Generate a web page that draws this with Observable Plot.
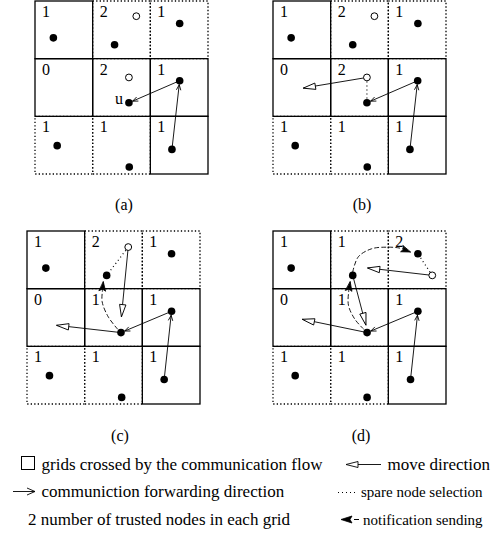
<!DOCTYPE html>
<html><head><meta charset="utf-8">
<script src="https://cdn.jsdelivr.net/npm/d3@7"></script>
<script src="https://cdn.jsdelivr.net/npm/@observablehq/plot@0.6"></script>
<style>
body{margin:0;background:#fff;}
#root{position:relative;width:496px;height:535px;font-family:"Liberation Serif","Times New Roman",serif;color:#000;overflow:hidden;background:#fff}
.panel{position:absolute}
</style></head><body><div id="root"></div>
<script>
// ---------- data (grid units: x = column 0..3, y = row 0..3 from the top) ----------
const panelLabels = ["(a)", "(b)", "(c)", "(d)"];
const crossed = [1,0,0, 1,1,1, 0,0,1];          // 1 = grid crossed by the communication flow
const countsA = [1,2,1, 0,2,1, 1,1,1];
const countsB = [1,2,1, 0,2,1, 1,1,1];
const countsC = [1,2,1, 0,1,1, 1,1,1];
const countsD = [1,1,2, 0,1,1, 1,1,1];

const nodesA = [[0.31,0.63],[1.371,0.75],[2.50,0.381],[1.62,1.756],[2.50,1.374],[0.376,2.50],[1.626,2.87],[2.366,2.565]];
const nodesB = [[0.306,0.63],[1.374,0.75],[2.504,0.381],[1.62,1.756],[2.50,1.374],[0.376,2.50],[1.626,2.87],[2.366,2.565]];
const nodesC = [[0.318,0.635],[1.373,0.761],[2.498,0.386],[1.621,1.753],[2.498,1.384],[0.381,2.50],[1.633,2.877],[2.37,2.566]];
const nodesD = [[0.306,0.635],[1.374,0.761],[2.504,0.386],[1.623,1.753],[2.504,1.384],[0.376,2.50],[1.623,2.877],[2.376,2.566]];

const spareA = [[1.748,0.255],[1.62,1.317]];
const spareB = [[1.75,0.255],[1.62,1.317]];
const spareC = [[1.747,0.27]];
const spareD = [[2.753,0.761]];

// communication forwarding: [x1,y1,x2,y2]
const forwardA = [[2.366,2.565,2.50,1.374],[2.50,1.374,1.62,1.756]];
const forwardB = [[2.366,2.565,2.50,1.374],[2.50,1.374,1.62,1.756]];
const forwardC = [[2.37,2.566,2.498,1.384],[2.498,1.384,1.621,1.753]];
const forwardD = [[2.376,2.566,2.504,1.384],[2.504,1.384,1.623,1.753]];

// move direction: [x1,y1,x2,y2] (x2,y2 = tip)
const moveA = [];
const moveB = [[1.62,1.317,0.52,1.50]];
const moveC = [[1.621,1.753,0.508,1.626],[1.747,0.27,1.628,1.475]];
const moveD = [[1.623,1.753,0.504,1.522],[1.374,0.761,1.60,1.62],[2.753,0.761,1.635,0.632]];

// spare node selection (dotted)
const selectA = [];
const selectB = [[1.62,1.317,1.62,1.756]];
const selectC = [[1.747,0.27,1.373,0.761]];
const selectD = [[2.753,0.761,2.504,0.386]];

// notification sending (dashed curves, last point = arrow tip)
const notifyA = [];
const notifyB = [];
const notifyC = [[[1.56,1.69],[1.40,1.48],[1.295,1.22],[1.30,1.02],[1.315,0.875]]];
const notifyD = [[[1.56,1.69],[1.41,1.52],[1.30,1.28],[1.305,1.03],[1.33,0.875]],
                 [[1.374,0.70],[1.47,0.44],[1.70,0.30],[1.98,0.272],[2.20,0.29],[2.37,0.355]]];

const nodeLabelsA = [{x:1.62, y:1.756, text:"u"}];

const legendTexts = ["grids crossed by the communication flow", "move direction",
  "communiction forwarding direction", "spare node selection",
  "2 number of trusted nodes in each grid", "notification sending"];

// ---------- drawing ----------
const FONT = '"Liberation Serif","Times New Roman",serif';
const hollowHead = {draw(c, l, r) { c.moveTo(0, -l); c.lineTo(r, 0); c.lineTo(-r, 0); c.closePath(); }};
const filledHead = {draw(c, l, r) { c.moveTo(0, -l); c.lineTo(r, 0); c.lineTo(0, -l*0.2); c.lineTo(-r, 0); c.closePath(); }};
const angle = (x1, y1, x2, y2) => Math.atan2(x2 - x1, -(y2 - y1)) * 180 / Math.PI;

function panel(p) {
  const cells = p.counts.map((c, i) => ({col: i % 3, row: Math.floor(i / 3), count: c, crossed: crossed[i]}));
  const notifyPts = p.notify.flatMap((pts, k) => pts.map(([x, y]) => ({x, y, id: k})));
  const notifyHeads = p.notify.map(pts => {
    const [a, b] = pts.slice(-2);
    return {x: b[0], y: b[1], rot: angle(a[0], a[1], b[0], b[1])};
  });
  const moveHeads = p.move.map(([x1, y1, x2, y2]) => ({x: x2, y: y2, rot: angle(x1, y1, x2, y2)}));
  const L = () => ({x1: d => d[0], y1: d => d[1], x2: d => d[2], y2: d => d[3]});
  return Plot.plot({
    width: 175, height: 175, margin: 1,
    x: {domain: [0, 3], axis: null},
    y: {domain: [0, 3], axis: null, reverse: true},
    style: {background: "transparent", overflow: "visible", fontFamily: FONT},
    marks: [
      Plot.rect(cells.filter(d => !d.crossed), {x1: "col", x2: d => d.col + 1, y1: "row", y2: d => d.row + 1,
        fill: "none", stroke: "black", strokeWidth: 1.3, strokeDasharray: "1.3,2.2"}),
      Plot.rect(cells.filter(d => d.crossed), {x1: "col", x2: d => d.col + 1, y1: "row", y2: d => d.row + 1,
        fill: "none", stroke: "black", strokeWidth: 1.3}),
      Plot.link(p.select, {...L(), stroke: "black", strokeWidth: 1.2, strokeDasharray: "1,3"}),
      Plot.line(notifyPts, {x: "x", y: "y", z: "id", curve: "catmull-rom", stroke: "black", strokeWidth: 0.9, strokeDasharray: "4,3"}),
      Plot.vector(notifyHeads, {x: "x", y: "y", rotate: "rot", anchor: "end", length: 9, r: 3.2, shape: filledHead, fill: "black", stroke: "black", strokeWidth: 0.8}),
      Plot.link(p.move, {...L(), stroke: "black", strokeWidth: 0.9}),
      Plot.vector(moveHeads, {x: "x", y: "y", rotate: "rot", anchor: "end", length: 12, r: 3, shape: hollowHead, fill: "white", stroke: "black", strokeWidth: 0.9}),
      Plot.arrow(p.forward, {...L(), stroke: "black", strokeWidth: 0.9, headLength: 9, headAngle: 45, insetEnd: 4}),
      Plot.dot(p.spare, {x: d => d[0], y: d => d[1], r: 3.4, fill: "white", stroke: "black", strokeWidth: 1}),
      Plot.dot(p.nodes, {x: d => d[0], y: d => d[1], r: 3.8, fill: "black"}),
      Plot.text(cells, {x: "col", y: "row", text: "count", dx: 6.5, dy: 15.5, textAnchor: "start", lineAnchor: "bottom", fontSize: 16, fill: "black"}),
      Plot.text(p.labels, {x: "x", y: "y", text: "text", dx: -6, dy: 1.5, textAnchor: "end", lineAnchor: "bottom", fontSize: 16, fill: "black"})
    ]
  });
}

const root = document.getElementById("root");
const specs = [
  {counts: countsA, nodes: nodesA, spare: spareA, forward: forwardA, move: moveA, select: selectA, notify: notifyA, labels: nodeLabelsA, left: 34, top: 0, lx: 124, ly: 210},
  {counts: countsB, nodes: nodesB, spare: spareB, forward: forwardB, move: moveB, select: selectB, notify: notifyB, labels: [], left: 272, top: 0, lx: 362, ly: 210},
  {counts: countsC, nodes: nodesC, spare: spareC, forward: forwardC, move: moveC, select: selectC, notify: notifyC, labels: [], left: 26, top: 230, lx: 120, ly: 441},
  {counts: countsD, nodes: nodesD, spare: spareD, forward: forwardD, move: moveD, select: selectD, notify: notifyD, labels: [], left: 272, top: 230, lx: 361, ly: 441}
];
specs.forEach((s) => {
  const el = panel(s);
  el.classList.add("panel");
  el.style.left = s.left + "px";
  el.style.top = s.top + "px";
  root.appendChild(el);
});

// overlay: panel captions and legend
const svg = d3.select(root).append("svg").attr("width", 496).attr("height", 535)
  .style("position", "absolute").style("left", 0).style("top", 0)
  .attr("font-family", FONT).attr("fill", "black");
specs.forEach((s, i) => svg.append("text").attr("x", s.lx).attr("y", s.ly).attr("text-anchor", "middle").attr("font-size", 16).text(panelLabels[i]));

const g = svg.append("g").attr("font-size", 17);
const b1 = 470, b2 = 497, b3 = 525;
// row 1
g.append("rect").attr("x", 21.5).attr("y", b1 - 13.5).attr("width", 13).attr("height", 13).attr("fill", "none").attr("stroke", "black").attr("stroke-width", 1);
g.append("text").attr("x", 41.5).attr("y", b1).text(legendTexts[0]);
g.append("line").attr("x1", 356).attr("x2", 381).attr("y1", b1 - 5.5).attr("y2", b1 - 5.5).attr("stroke", "black").attr("stroke-width", 0.9);
g.append("path").attr("d", `M346,${b1-5.5}L358,${b1-8.5}L358,${b1-2.5}Z`).attr("fill", "white").attr("stroke", "black").attr("stroke-width", 0.9);
g.append("text").attr("x", 387.5).attr("y", b1).text(legendTexts[1]);
// row 2
g.append("line").attr("x1", 13).attr("x2", 35).attr("y1", b2 - 5.5).attr("y2", b2 - 5.5).attr("stroke", "black").attr("stroke-width", 0.9);
g.append("path").attr("d", `M27,${b2-9}L35,${b2-5.5}L27,${b2-2}`).attr("fill", "none").attr("stroke", "black").attr("stroke-width", 0.9);
g.append("text").attr("x", 41.5).attr("y", b2).text(legendTexts[2]);
g.append("line").attr("x1", 338).attr("x2", 357).attr("y1", b2 - 4.5).attr("y2", b2 - 4.5).attr("stroke", "black").attr("stroke-width", 1).attr("stroke-dasharray", "1,3");
g.append("text").attr("x", 361).attr("y", b2).attr("font-size", 15).text(legendTexts[3]);
// row 3
g.append("text").attr("x", 28).attr("y", b3).text(legendTexts[4]);
g.append("path").attr("d", `M341,${b3-5.5}L352,${b3-9}L350,${b3-5.5}L352,${b3-2}Z`).attr("fill", "black").attr("stroke", "black").attr("stroke-width", 0.8);
g.append("line").attr("x1", 354).attr("x2", 359).attr("y1", b3 - 5.5).attr("y2", b3 - 5.5).attr("stroke", "black").attr("stroke-width", 1);
g.append("text").attr("x", 363).attr("y", b3).attr("font-size", 15).text(legendTexts[5]);
</script>
</body></html>
